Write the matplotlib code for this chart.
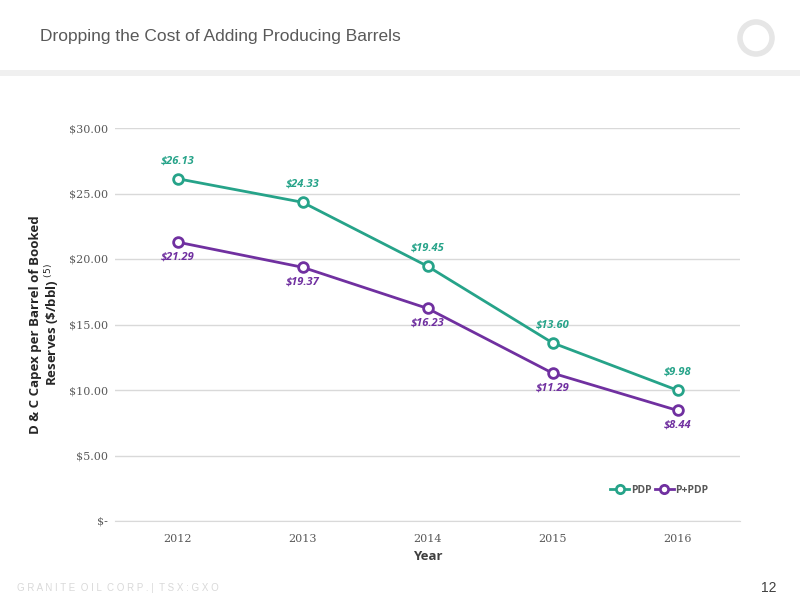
import matplotlib
matplotlib.use("Agg")
import matplotlib.pyplot as plt
from matplotlib.patches import Rectangle, Ellipse

years = ["2012", "2013", "2014", "2015", "2016"]
pdp = [26.13, 24.33, 19.45, 13.60, 9.98]
ppdp = [21.29, 19.37, 16.23, 11.29, 8.44]
yticks = [0, 5, 10, 15, 20, 25, 30]
ytick_labels = ["$-", "$5.00", "$10.00", "$15.00", "$20.00", "$25.00", "$30.00"]

teal = "#26a389"
purple = "#7030a0"

fig = plt.figure(figsize=(8, 6), dpi=100)
fig.patch.set_facecolor("white")

# header band
fig.patches.append(Rectangle((0, 1 - 76/600), 1, 6/600, transform=fig.transFigure,
                             facecolor="#f0f0f0", edgecolor="none"))
fig.text(40/800, 1 - 36/600, "Dropping the Cost of Adding Producing Barrels",
         fontsize=12.5, color="#595959", family="Liberation Sans", va="center")
# logo ring
fig.patches.append(Ellipse((756/800, 1 - 38/600), 32/800, 32/600, transform=fig.transFigure,
                           facecolor="none", edgecolor="#e6e6e6", linewidth=4))
fig.text(17/800, 1 - 588/600, "G R A N I T E  O I L  C O R P . |  T S X : G X O",
         fontsize=7, color="#d9d9d9", family="Liberation Sans", va="center")
fig.text(777/800, 1 - 588/600, "12", fontsize=10, color="#404040",
         family="Liberation Sans", va="center", ha="right")

ax = fig.add_axes([115/800, 1 - 521/600, 625/800, 393/600])
x = list(range(len(years)))
ax.plot(x, pdp, color=teal, lw=2, marker="o", ms=7, mfc="white", mew=2, label="PDP", zorder=3)
ax.plot(x, ppdp, color=purple, lw=2, marker="o", ms=7, mfc="white", mew=2, label="P+PDP", zorder=3)

for xi, v in zip(x, pdp):
    ax.annotate(f"${v:.2f}", (xi, v), xytext=(0, 9), textcoords="offset points",
                ha="center", va="bottom", color=teal, fontsize=8,
                fontweight="bold", fontstyle="italic", family="Open Sans")
for xi, v in zip(x, ppdp):
    ax.annotate(f"${v:.2f}", (xi, v), xytext=(0, -7), textcoords="offset points",
                ha="center", va="top", color=purple, fontsize=8,
                fontweight="bold", fontstyle="italic", family="Open Sans")

ax.set_xlim(-0.5, 4.5)
ax.set_ylim(0, 30)
ax.set_yticks(yticks)
ax.set_yticklabels(ytick_labels)
ax.set_xticks(x)
ax.set_xticklabels(years)
ax.grid(axis="y", color="#d9d9d9", lw=1)
ax.set_axisbelow(True)
for s in ["top", "right", "left"]:
    ax.spines[s].set_visible(False)
ax.spines["bottom"].set_color("#d9d9d9")
ax.tick_params(length=0, colors="#595959")
ax.tick_params(axis="y", pad=5)
ax.tick_params(axis="x", pad=9)
for lbl in ax.get_xticklabels() + ax.get_yticklabels():
    lbl.set_family("DejaVu Serif")
    lbl.set_fontsize(8)

ax.set_xlabel("Year", fontsize=9.5, fontweight="bold", color="#404040", family="Open Sans", labelpad=5)
ax.set_ylabel("D & C Capex per Barrel of Booked\nReserves (\\$/bbl) $^{(5)}$", fontsize=9.5,
              fontweight="bold", color="#262626", family="Open Sans", labelpad=0,
              linespacing=1.05)
ax.yaxis.set_label_coords(-0.087, 0.5)

leg = ax.legend(loc="lower right", bbox_to_anchor=(0.965, 0.04), ncol=2, frameon=False,
                handlelength=1.8, columnspacing=0.3, handletextpad=0.2, markerscale=0.85,
                prop={"family": "Open Sans", "weight": "bold", "size": 7.5})
for t in leg.get_texts():
    t.set_color("#595959")

fig.savefig("out.png", dpi=100)
